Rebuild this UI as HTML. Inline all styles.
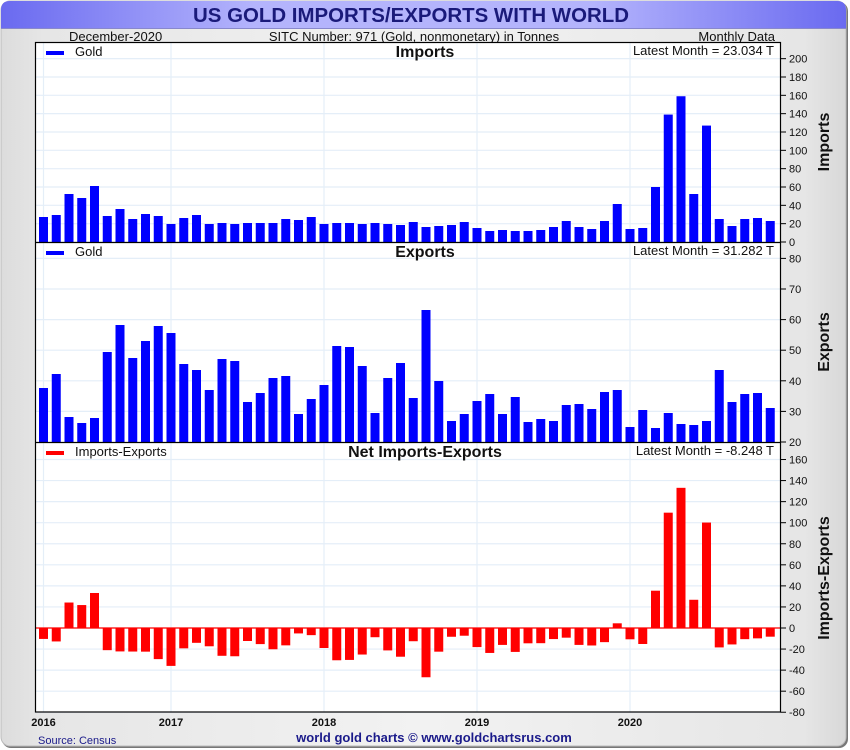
<!DOCTYPE html>
<html><head><meta charset="utf-8"><style>
html,body{margin:0;padding:0;background:#fff;}
svg{display:block;font-family:"Liberation Sans",sans-serif;}
</style></head><body>
<svg id="s" width="850" height="750" xmlns="http://www.w3.org/2000/svg">
<defs>
<linearGradient id="tb" x1="0" x2="1" y1="0" y2="0">
<stop offset="0" stop-color="#6a6af0"/><stop offset="0.3" stop-color="#b4b4fc"/><stop offset="0.7" stop-color="#b4b4fc"/><stop offset="1" stop-color="#6a6af0"/></linearGradient>
<linearGradient id="bg" x1="0" x2="1" y1="0" y2="0">
<stop offset="0" stop-color="#dcdcdc"/><stop offset="0.05" stop-color="#e6e6e6"/><stop offset="0.5" stop-color="#f2f2f2"/><stop offset="0.95" stop-color="#e6e6e6"/><stop offset="1" stop-color="#d8d8d8"/></linearGradient>
</defs>
<rect x="2" y="2" width="846" height="746" rx="9" fill="#777"/>
<rect x="1" y="1" width="845" height="745" rx="9" fill="url(#bg)" stroke="#bbb"/>
<path d="M1 28 V10 Q1 1 10 1 H837 Q846 1 846 10 V28 Z" fill="url(#tb)"/>
<line x1="1" y1="28.5" x2="846" y2="28.5" stroke="#8888cc"/>
<text x="411" y="22" text-anchor="middle" font-size="20" font-weight="bold" fill="#1a1a7a" textLength="436" lengthAdjust="spacingAndGlyphs">US GOLD IMPORTS/EXPORTS WITH WORLD</text>
<text x="69" y="41" font-size="13" fill="#111">December-2020</text>
<text x="414" y="41" text-anchor="middle" font-size="13" fill="#111">SITC Number: 971 (Gold, nonmonetary) in Tonnes</text>
<text x="775" y="41" text-anchor="end" font-size="13" fill="#111">Monthly Data</text>
<rect x="35.5" y="42.5" width="745" height="669.5" fill="#fff"/>
<g id="g"></g>
<rect x="35.5" y="42.5" width="745" height="669.5" fill="none" stroke="#000" stroke-width="1.2"/>
<line x1="35.5" y1="242.5" x2="780.5" y2="242.5" stroke="#000" stroke-width="1.2"/>
<line x1="35.5" y1="442.5" x2="780.5" y2="442.5" stroke="#000" stroke-width="1.2"/>
<text x="38" y="744" font-size="11" fill="#1a1a8a">Source: Census</text>
<text x="434" y="742" text-anchor="middle" font-size="13" font-weight="bold" fill="#1a1a8a">world gold charts © www.goldchartsrus.com</text>
</svg>
<script>
var NS="http://www.w3.org/2000/svg",g=document.getElementById('g');
function el(t,a,txt){var e=document.createElementNS(NS,t);for(var k in a)e.setAttribute(k,a[k]);if(txt!=null)e.textContent=txt;g.appendChild(e);return e;}
var impZ=[171,165,102,114,78,168,147,177,162,168,192,174,165,192,189,192,189,189,189,177,180,171,192,189,189,192,189,192,195,186];
var impZ2=[201,198,195,186,204,213,210,213,213,210,201,183,201,207,183,132,207,204,81,null,null,102,null,177,198,177,174,183];
var imp=[];impZ.forEach(function(v){imp.push((242-(160+v/3))/0.9167);});
impZ2.forEach(function(v){imp.push(v==null?0:(242-(160+v/3))/0.9167);});
imp[49]=139;imp[50]=159;imp[52]=127;
var expZ=[264,222,351,369,354,156,75,174,123,78,99,192,210,270,177,183,306,279,234,228,342,297,255,138,141,198,339,234,189,294,30,243,363,342,303,282,342,291,366,357,363,315,312,327,276,270,381,330,384,339,372,375,363,210,306,282,279,324];
var exp=expZ.map(function(v){return 20+(442-(300+v/3))/3.06;});
function X(i){return 43.5+i*12.75;}
var years=[[43.5,'2016'],[171,'2017'],[324,'2018'],[477,'2019'],[630,'2020']];
function hgrid(y){el('line',{x1:35.5,x2:780.5,y1:y,y2:y,stroke:'#e4eef8','stroke-width':1.2});}
years.forEach(function(y){el('line',{x1:y[0],x2:y[0],y1:43,y2:712,stroke:'#e4eef8','stroke-width':1.2});
 el('text',{x:y[0],y:726,'text-anchor':'middle','font-size':11,'font-weight':'bold',fill:'#111'},y[1]);});
function tick(y,lab){el('line',{x1:780.5,x2:786,y1:y,y2:y,stroke:'#000'});el('text',{x:789,y:y+4,'font-size':11,fill:'#111'},lab);}
for(var v=0;v<=200;v+=20){var y=242-v*0.9167;hgrid(y);tick(y,v);}
for(var v=30;v<=80;v+=10){var y=442-(v-20)*3.06;hgrid(y);tick(y,v);}
tick(442,20);
for(var v=-80;v<=160;v+=20){var y=628-v*1.053;hgrid(y);tick(y,v);}
for(var i=0;i<58;i++){
 var h=imp[i]*0.9167;el('rect',{x:X(i)-4.5,y:242-h,width:9,height:h,fill:'#0000ff'});
 var he=(exp[i]-20)*3.06;el('rect',{x:X(i)-4.5,y:442-he,width:9,height:he,fill:'#0000ff'});
 var n=imp[i]-exp[i];if(i==57)n=-8.248;var hn=n*1.053;
 el('rect',{x:X(i)-4.5,y:hn>0?628-hn:628,width:9,height:Math.abs(hn),fill:'#ff0000'});
}
el('line',{x1:35.5,x2:780.5,y1:628,y2:628,stroke:'#ff0000','stroke-width':1.2});
function panel(y,leg,col,title,latest){
 el('rect',{x:46,y:y-4,width:18,height:4,fill:col});
 el('text',{x:75,y:y+1,'font-size':13,fill:'#111'},leg);
 el('text',{x:425,y:y+2,'text-anchor':'middle','font-size':16,'font-weight':'bold',fill:'#111'},title);
 el('text',{x:774,y:y,'text-anchor':'end','font-size':13,fill:'#111'},latest);
}
panel(55,'Gold','#0000ff','Imports','Latest Month = 23.034 T');
panel(255,'Gold','#0000ff','Exports','Latest Month = 31.282 T');
panel(455,'Imports-Exports','#ff0000','Net Imports-Exports','Latest Month = -8.248 T');
function ylab(y,t){el('text',{x:0,y:0,transform:'translate(829,'+y+') rotate(-90)','text-anchor':'middle','font-size':16,'font-weight':'bold',fill:'#111'},t);}
ylab(142,'Imports');ylab(342,'Exports');ylab(578,'Imports-Exports');
</script>
</body></html>
